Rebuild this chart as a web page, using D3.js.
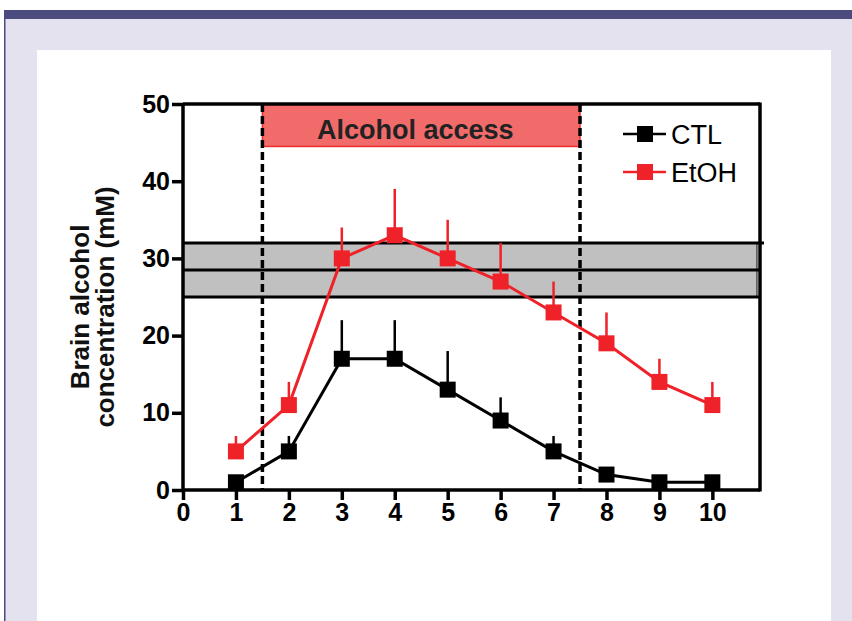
<!DOCTYPE html>
<html><head><meta charset="utf-8">
<script src="https://cdn.jsdelivr.net/npm/d3@7"></script>
<style>body{margin:0;padding:0;background:#fff}svg{display:block}</style>
</head><body>
<script>
const hours = [1,2,3,4,5,6,7,8,9,10];
const ctlMean = [1,5,17,17,13,9,5,2,1,1];
const ctlErr  = [0,2,5,5,5,3,2,0,0,0];
const etohMean = [5,11,30,33,30,27,23,19,14,11];
const etohErr  = [2,3,4,6,5,5,4,4,3,3];
const xTicks = [0,1,2,3,4,5,6,7,8,9,10];
const yTicks = [0,10,20,30,40,50];
const accessWindow = [1.5,7.5];
const bandRange = [25,32];
const bandMid = 28.5;
const seriesNames = ["CTL","EtOH"];

const W=852,H=621;
const svg=d3.select("body").append("svg").attr("width",W).attr("height",H);
// frame
svg.append("rect").attr("x",0).attr("y",0).attr("width",W).attr("height",H).attr("fill","#fff");
svg.append("rect").attr("x",5).attr("y",10).attr("width",W-5).attr("height",H-10).attr("fill","#e3e2ee");
svg.append("rect").attr("x",5).attr("y",10).attr("width",W-5).attr("height",9).attr("fill","#4b4b80");
svg.append("rect").attr("x",4).attr("y",10).attr("width",1.5).attr("height",H-10).attr("fill","#4b4b80");
svg.append("rect").attr("x",37).attr("y",50).attr("width",794).attr("height",H-50).attr("fill","#fff");

const x=d3.scaleLinear().domain([0,10.9]).range([183,760]);
const y=d3.scaleLinear().domain([0,50]).range([490,104]);
const font="Liberation Sans, Arial, Helvetica, sans-serif";

// gray band
svg.append("rect").attr("x",x(0)).attr("y",y(bandRange[1])).attr("width",x(10.9)-x(0)-3).attr("height",y(bandRange[0])-y(bandRange[1]))
  .attr("fill","#c0c0c0").attr("stroke","#000").attr("stroke-width",1);
[bandRange[0],bandRange[1]].forEach(v=>{
  svg.append("line").attr("x1",x(0)).attr("x2",x(10.9)+(v===bandRange[1]?4:0)).attr("y1",y(v)).attr("y2",y(v)).attr("stroke","#000").attr("stroke-width",3);
});
svg.append("line").attr("x1",x(0)).attr("x2",x(10.9)).attr("y1",y(bandMid)).attr("y2",y(bandMid)).attr("stroke","#000").attr("stroke-width",3);

// access box
svg.append("rect").attr("x",x(accessWindow[0])).attr("y",y(50)).attr("width",x(accessWindow[1])-x(accessWindow[0])).attr("height",y(44.5)-y(50))
  .attr("fill","#f26b6b").attr("stroke","#ee2a2a").attr("stroke-width",1.5);
svg.append("text").attr("x",(x(accessWindow[0])+x(accessWindow[1]))/2-6).attr("y",139)
  .attr("text-anchor","middle").attr("font-family",font).attr("font-weight","bold").attr("font-size",27).attr("fill","#222").text("Alcohol access");

// dashed lines
accessWindow.forEach(v=>{
  svg.append("line").attr("x1",x(v)).attr("x2",x(v)).attr("y1",y(50)).attr("y2",y(0)).attr("stroke","#000").attr("stroke-width",3.5).attr("stroke-dasharray","8,4");
});

// plot border right & top
svg.append("line").attr("x1",x(0)).attr("x2",x(10.9)).attr("y1",y(50)).attr("y2",y(50)).attr("stroke","#000").attr("stroke-width",3.5);
svg.append("line").attr("x1",x(10.9)).attr("x2",x(10.9)).attr("y1",y(50)-1.5).attr("y2",y(0)+1.5).attr("stroke","#000").attr("stroke-width",3.5);

// axes
const xAxis=svg.append("g").attr("transform",`translate(0,${y(0)})`).call(d3.axisBottom(x).tickValues(xTicks).tickSize(10).tickPadding(3).tickFormat(d3.format("d")));
const yAxis=svg.append("g").attr("transform",`translate(${x(0)},0)`).call(d3.axisLeft(y).tickValues(yTicks).tickSize(11).tickPadding(2).tickFormat(d3.format("d")));
[xAxis,yAxis].forEach(g=>{
  g.attr("font-size",25).attr("font-family",font);
  g.select(".domain").attr("stroke","#000").attr("stroke-width",3.5);
  g.selectAll(".tick line").attr("stroke","#000").attr("stroke-width",3.5);
  g.selectAll(".tick text").attr("font-family",font).attr("font-weight","bold").attr("font-size",25).attr("fill","#000");
});
xAxis.select(".domain").attr("d",`M${x(0)},0H${x(10.9)}`);
yAxis.select(".domain").attr("d",`M0,${y(0)}V${y(50)}`);

// y label
const yl=svg.append("text").attr("transform",`translate(89,307) rotate(-90)`).attr("text-anchor","middle")
  .attr("font-family",font).attr("font-weight","bold").attr("font-size",26).attr("fill","#111");
yl.append("tspan").attr("x",0).attr("dy",0).text("Brain alcohol");
yl.append("tspan").attr("x",0).attr("dy",25).text("concentration (mM)");

// series
function drawSeries(mean,err,color){
  const g=svg.append("g");
  hours.forEach((h,i)=>{
    if(err[i]>0) g.append("line").attr("x1",x(h)).attr("x2",x(h)).attr("y1",y(mean[i])).attr("y2",y(mean[i]+err[i])).attr("stroke",color).attr("stroke-width",2.5);
  });
  g.append("path").datum(hours.map((h,i)=>[h,mean[i]])).attr("fill","none").attr("stroke",color).attr("stroke-width",3)
    .attr("d",d3.line().x(d=>x(d[0])).y(d=>y(d[1])));
  g.selectAll("rect").data(hours.map((h,i)=>[h,mean[i]])).join("rect")
    .attr("x",d=>x(d[0])-8).attr("y",d=>y(d[1])-8).attr("width",16).attr("height",16).attr("fill",color);
}
drawSeries(ctlMean,ctlErr,"#000");
drawSeries(etohMean,etohErr,"#ee2228");

// legend
const legColors=["#000","#ee2228"];
seriesNames.forEach((n,i)=>{
  const ly=134+i*38;
  svg.append("line").attr("x1",623).attr("x2",666).attr("y1",ly).attr("y2",ly).attr("stroke",legColors[i]).attr("stroke-width",2.5);
  svg.append("rect").attr("x",637).attr("y",ly-8).attr("width",16).attr("height",16).attr("fill",legColors[i]);
  svg.append("text").attr("x",671).attr("y",ly+10).attr("font-family",font).attr("font-size",27).attr("fill","#000").text(n);
});
</script>
</body></html>
